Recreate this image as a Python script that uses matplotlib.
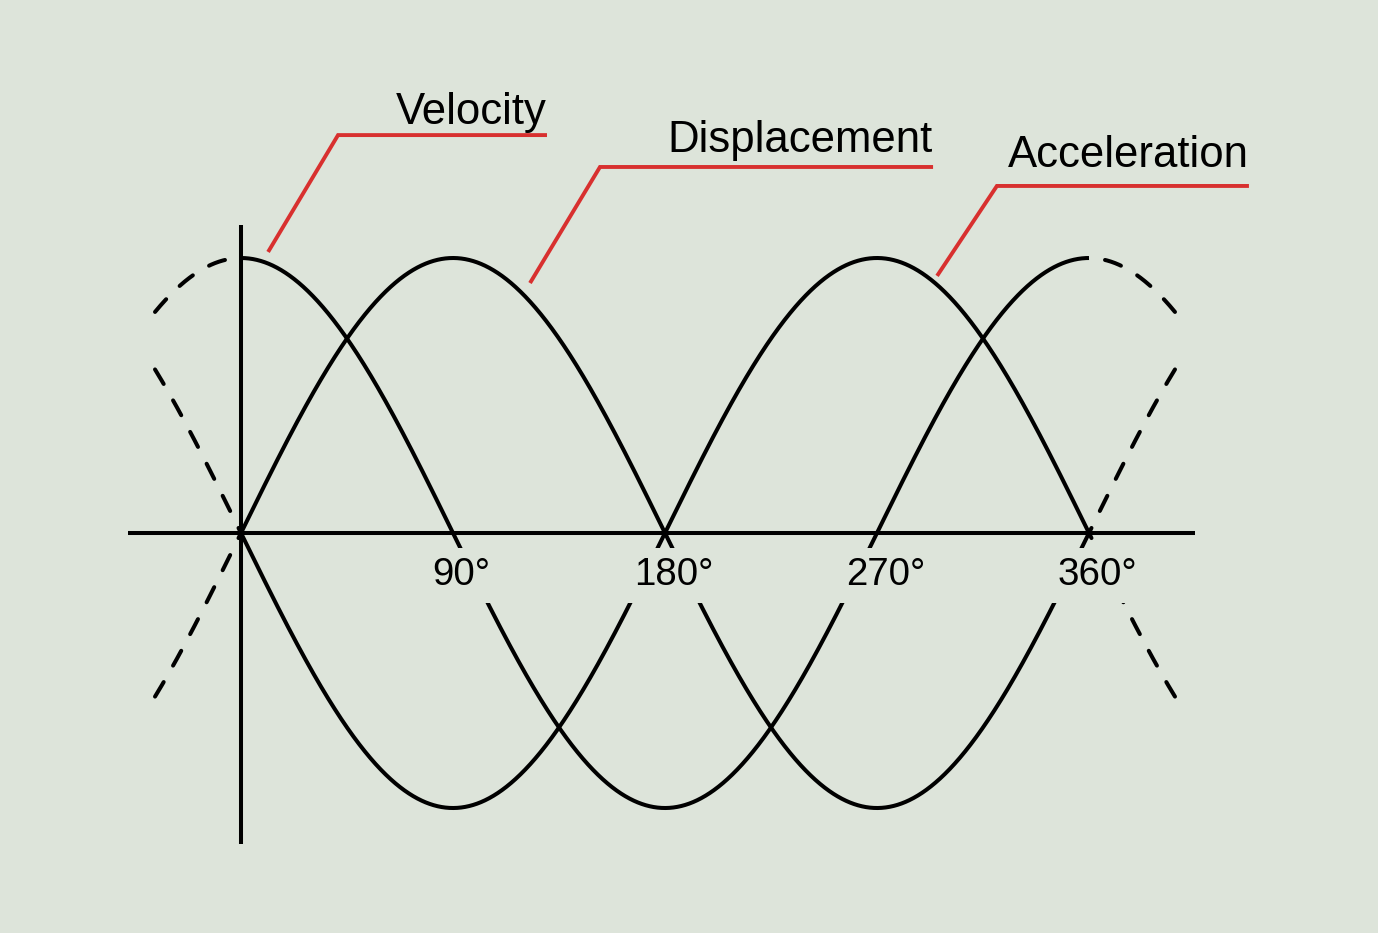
import numpy as np
import matplotlib
matplotlib.use("Agg")
import matplotlib.pyplot as plt

# ---- data ----
curve_names = ["Displacement", "Velocity", "Acceleration"]
phase_deg = [0, 90, 180]          # each curve = sin(angle + phase)
amplitude = 1.0
solid_start, solid_end = 0, 360   # drawn solid
extension_deg = 36.5              # dashed continuation each side

tick_degrees = [90, 180, 270, 360]
tick_labels = ["90°", "180°", "270°", "360°"]

# leader lines: start (deg, value), elbow (deg, value), end deg, text baseline value
label_text = ["Velocity", "Displacement", "Acceleration"]
leader_start = [(11.5, 1.022), (122.7, 0.909), (295.5, 0.935)]
leader_elbow = [(41.2, 1.447), (152.4, 1.331), (320.9, 1.262)]
leader_end = [129.9, 293.8, 427.9]
text_baseline = [1.487, 1.386, 1.330]

# ---- style ----
BG = "#dde4da"
RED = "#d8302f"
plt.rcParams["font.family"] = ["Liberation Sans", "DejaVu Sans"]

fig = plt.figure(figsize=(13.78, 9.33), dpi=100, facecolor=BG)
ax = fig.add_axes([0, 0, 1, 1])
ax.set_facecolor(BG)
ax.set_xlim(-102.31, 482.69)
ax.set_ylim(-1.4545, 1.9382)
ax.axis("off")

LW = 2.9
for name, ph in zip(curve_names, phase_deg):
    xs = np.linspace(solid_start, solid_end, 3000)
    ax.plot(xs, amplitude * np.sin(np.radians(xs + ph)), color="black",
            lw=LW, solid_capstyle="butt", zorder=2)
    for a, b in [(solid_start - extension_deg, solid_start),
                 (solid_end + extension_deg, solid_end)]:
        xd = np.linspace(a, b, 400)
        ax.plot(xd, amplitude * np.sin(np.radians(xd + ph)), color="black",
                lw=LW, linestyle=(0, (4.2, 4.7)), dash_capstyle="round", zorder=2)

# axes lines
ax.plot([-47.97, 404.9], [0, 0], color="black", lw=LW, zorder=5,
        solid_capstyle="butt")
ax.plot([0, 0], [1.12, -1.131], color="black", lw=LW, zorder=5,
        solid_capstyle="butt")

# tick labels with background boxes (break the curves)
for d, lab in zip(tick_degrees, tick_labels):
    ax.text(d + 3.6, -0.19, lab, ha="center", va="baseline", fontsize=27.7,
            color="black", zorder=4,
            bbox=dict(boxstyle="square,pad=0.25", facecolor=BG, edgecolor="none"))

# leader lines and labels
for t, s, e, xe, yb in zip(label_text, leader_start, leader_elbow, leader_end,
                           text_baseline):
    ax.plot([s[0], e[0], xe], [s[1], e[1], e[1]], color=RED, lw=2.8,
            solid_joinstyle="miter", solid_capstyle="butt", zorder=6)
    ax.text(xe, yb, t, ha="right", va="baseline", fontsize=31.5, color="black",
            zorder=6)

fig.savefig("out.png", dpi=100, facecolor=BG)
